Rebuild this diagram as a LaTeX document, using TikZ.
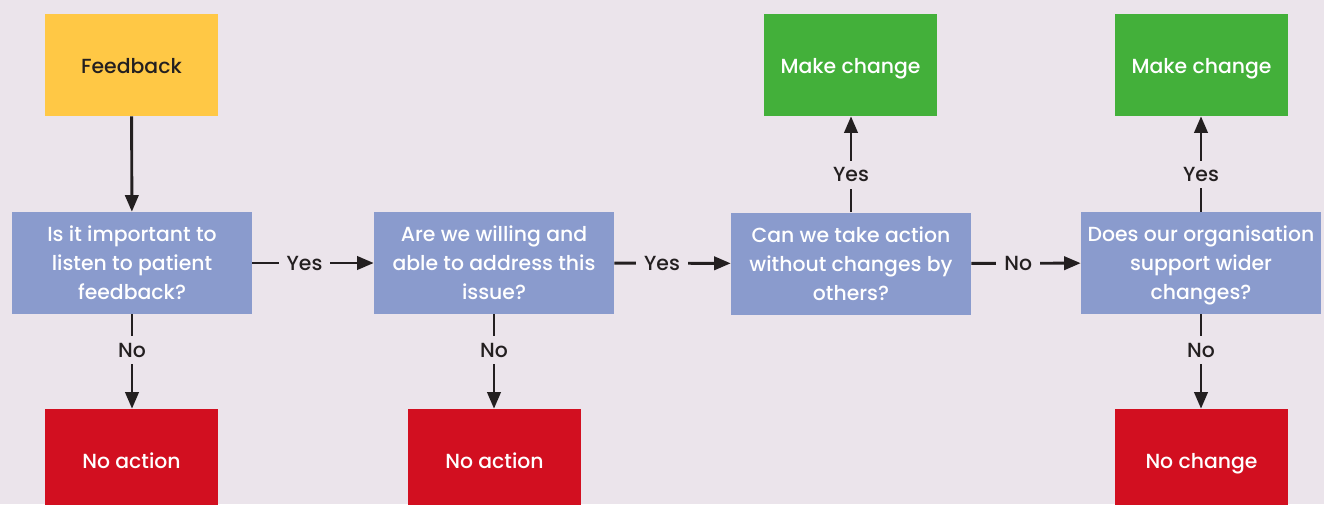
\documentclass[tikz,border=0pt]{standalone}
\usepackage{fontspec}
\setmainfont{Poppins}[BoldFont={Poppins Medium}]
\usetikzlibrary{arrows.meta}
\definecolor{bg}{HTML}{EBE4EB}
\definecolor{fbyellow}{HTML}{FFC845}
\definecolor{qblue}{HTML}{8A9BCD}
\definecolor{okgreen}{HTML}{43B03A}
\definecolor{nored}{HTML}{D20F20}
\definecolor{ink}{HTML}{231F20}
\begin{document}
\begin{tikzpicture}[x=0.75pt,y=-0.75pt,
  every node/.style={font=\fontsize{15.3pt}{21.75pt}\selectfont\bfseries},
  qbox/.style={fill=qblue,text=white,minimum width=180pt,minimum height=76.5pt,inner sep=0pt,align=center,text depth=-2pt},
  endbox/.style={minimum width=129.75pt,minimum height=76.5pt,inner sep=0pt,align=center,text height=17pt,text depth=4pt},
  conn/.style={line width=2.2pt,ink,-{Triangle[length=12.5pt,width=10pt]}},
  lbl/.style={fill=bg,text=ink,inner xsep=6pt,inner ysep=5pt}]
\useasboundingbox (0,0) rectangle (1324,504);
\fill[bg] (0,0) rectangle (1324,504);
\clip (0,0) rectangle (1324,504);
\node[endbox,fill=fbyellow,text=ink] (fb) at (131.5,65) {Feedback};
\node[qbox] (q1) at (132,263) {Is it important to\\listen to patient\\feedback?};
\node[qbox] (q2) at (494,263) {Are we willing and\\able to address this\\issue?};
\node[qbox] (q3) at (851,263.5) {Can we take action\\without changes by\\others?};
\node[qbox] (q4) at (1201,263) {Does our organisation\\support wider\\changes?};
\node[endbox,fill=nored,text=white] (na1) at (131.5,460) {No action};
\node[endbox,fill=nored,text=white] (na2) at (494.5,460) {No action};
\node[endbox,fill=okgreen,text=white] (mc1) at (850.5,65) {Make change};
\node[endbox,fill=okgreen,text=white] (mc2) at (1201.5,65) {Make change};
\node[endbox,fill=nored,text=white] (nc) at (1201.5,460) {No change};
\draw[conn] (fb) -- (q1);
\draw[conn] (q1.south) -- node[lbl,pos=0.38] {No} (q1.south |- na1.north);
\draw[conn] (q2.south) -- node[lbl,pos=0.38] {No} (q2.south |- na2.north);
\draw[conn] (q4.south) -- node[lbl,pos=0.38] {No} (q4.south |- nc.north);
\draw[conn] (q1) -- node[lbl,pos=0.43] {Yes} (q2);
\draw[conn] (q2) -- node[lbl,pos=0.41] {Yes} (q3);
\draw[conn] (q3) -- node[lbl,pos=0.43] {No} (q4);
\draw[conn] (q3.north) -- node[lbl,pos=0.39] {Yes} (q3.north |- mc1.south);
\draw[conn] (q4.north) -- node[lbl,pos=0.39] {Yes} (q4.north |- mc2.south);
\end{tikzpicture}
\end{document}
